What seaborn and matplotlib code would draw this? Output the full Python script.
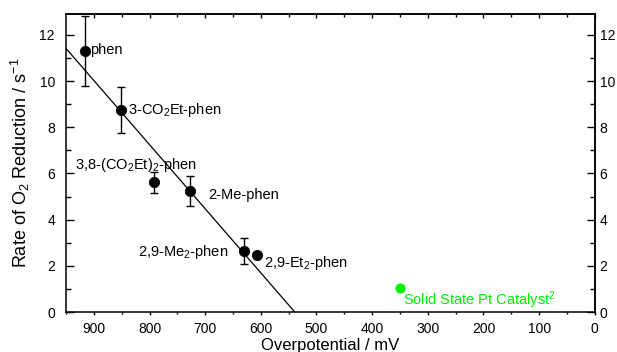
import matplotlib
matplotlib.use("Agg")
import matplotlib.pyplot as plt
import pandas as pd
import seaborn as sns
from matplotlib.ticker import MultipleLocator

# data
names = ["phen", "3-CO$_2$Et-phen", "3,8-(CO$_2$Et)$_2$-phen", "2-Me-phen",
         "2,9-Me$_2$-phen", "2,9-Et$_2$-phen"]
overpot = [916, 851, 792, 727, 631, 606]
rate = [11.3, 8.75, 5.62, 5.22, 2.64, 2.47]
rate_err = [1.5, 1.0, 0.45, 0.65, 0.58, 0.1]

pt_overpot = [350]
pt_rate = [1.02]

# linear fit drawn in the original (end points)
fit_x = [950, 539]
fit_y = [11.41, 0.0]

# label anchor points (data coords)
label_x = [907, 838, 934, 694, 658, 594]
label_y = [11.34, 8.74, 6.36, 5.06, 2.61, 2.12]
label_ha = ["left", "left", "left", "left", "right", "left"]

y_major = [0, 2, 4, 6, 8, 10, 12]
y_minor = [1, 3, 5, 7, 9, 11]

df = pd.DataFrame({"overpot": overpot, "rate": rate})
df_fit = pd.DataFrame({"overpot": fit_x, "rate": fit_y})
df_pt = pd.DataFrame({"overpot": pt_overpot, "rate": pt_rate})

sns.set_style("ticks")
plt.rcParams["font.family"] = ["Liberation Sans", "DejaVu Sans"]
plt.rcParams["mathtext.fontset"] = "custom"
plt.rcParams["mathtext.rm"] = "Liberation Sans"
plt.rcParams["mathtext.it"] = "Liberation Sans:italic"
for k in ["text.color", "axes.labelcolor", "xtick.color", "ytick.color",
          "axes.edgecolor"]:
    plt.rcParams[k] = "black"

fig = plt.figure(figsize=(6.17, 3.52), dpi=100)
ax = fig.add_axes([0.107, 0.1136, 0.857, 0.8466])

sns.lineplot(data=df_fit, x="overpot", y="rate", color="black", lw=0.9, ax=ax)
ax.errorbar(overpot, rate, yerr=rate_err, fmt="none", ecolor="black",
            elinewidth=1.0, capsize=2.8, capthick=1.0)
sns.scatterplot(data=df, x="overpot", y="rate", color="black", s=55,
                edgecolor="black", ax=ax, zorder=5)
sns.scatterplot(data=df_pt, x="overpot", y="rate", color="#00ee00", s=45,
                edgecolor="#00ee00", ax=ax, zorder=5)

for n, lx, ly, ha in zip(names, label_x, label_y, label_ha):
    ax.text(lx, ly, n, ha=ha, va="center", fontsize=10.5, color="black")
ax.text(207, 0.49, "Solid State Pt Catalyst$^2$", color="#00ee00",
        ha="center", va="center", fontsize=10.5)

ax.set_xlim(950, 0)
ax.set_ylim(0, 12.9)
ax.xaxis.set_major_locator(MultipleLocator(100))
ax.xaxis.set_minor_locator(MultipleLocator(50))
ax.set_yticks(y_major)
ax.set_yticks(y_minor, minor=True)

ax.tick_params(axis="x", which="major", direction="out", length=2.5,
               width=1, pad=5, labelsize=10)
ax.tick_params(axis="x", which="minor", direction="out", length=1.3, width=1)
ax.tick_params(axis="y", which="major", direction="in", length=5.5, width=1,
               pad=8, labelsize=10)
ax.tick_params(axis="y", which="minor", direction="in", length=3.6, width=1)

top = ax.secondary_xaxis("top")
top.set_xticks(list(range(900, -1, -100)))
top.set_xticks(list(range(850, 0, -100)), minor=True)
top.tick_params(axis="x", which="major", direction="in", length=3, width=1,
                labeltop=False)
top.tick_params(axis="x", which="minor", direction="in", length=2, width=1)

right = ax.secondary_yaxis("right")
right.set_yticks(y_major)
right.set_yticks(y_minor, minor=True)
right.tick_params(axis="y", which="major", direction="in", length=5.5,
                  width=1, pad=3.5, labelsize=10)
right.tick_params(axis="y", which="minor", direction="in", length=3.6, width=1)

for sp in list(ax.spines.values()) + [top.spines["top"], right.spines["right"]]:
    sp.set_linewidth(1.1)
    sp.set_visible(True)

ax.set_xlabel("Overpotential / mV", fontsize=12, labelpad=1)
ax.set_ylabel("Rate of O$_2$ Reduction / s$^{-1}$", fontsize=13, labelpad=5)

fig.savefig("out.png", dpi=100)
